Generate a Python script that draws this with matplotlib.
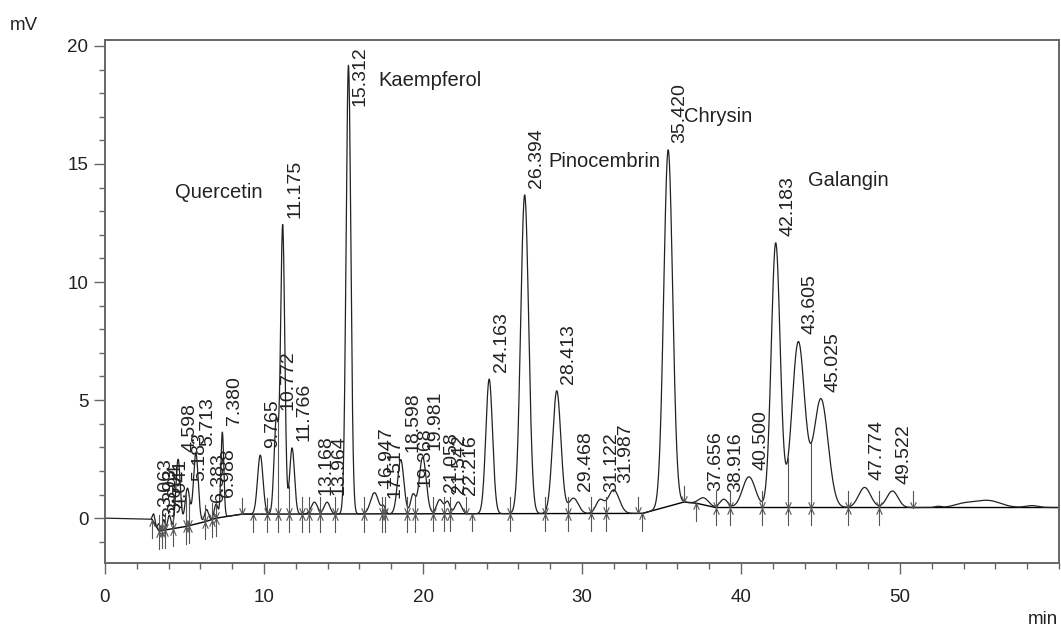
import numpy as np
import matplotlib.pyplot as plt
from matplotlib.path import Path

plt.rcParams['font.family'] = ['Liberation Sans', 'DejaVu Sans']

# peak table: retention time (min), height above baseline (mV), width (sigma, min)
rt = [3.063, 3.393, 3.694, 4.041, 4.598, 5.183, 5.713, 6.383, 6.988, 7.380,
      9.765, 10.772, 11.175, 11.766, 13.168, 13.964, 15.312, 16.947, 17.517,
      18.598, 19.368, 19.981, 21.058, 21.542, 22.216, 24.163, 26.394, 28.413,
      29.468, 31.122, 31.987, 35.420, 37.656, 38.916, 40.500, 42.183, 43.605,
      45.025, 47.774, 49.522]
height = [0.35, 0.3, 0.45, 0.6, 2.9, 1.6, 3.0, 0.5, 0.6, 3.6,
          2.5, 4.0, 12.2, 2.8, 0.5, 0.5, 19.0, 0.9, 0.3,
          2.3, 0.8, 2.4, 0.6, 0.5, 0.5, 5.7, 13.5, 5.2,
          0.65, 0.55, 1.0, 15.1, 0.3, 0.35, 1.3, 11.2, 7.0,
          4.6, 0.85, 0.7]
sigma = [0.07, 0.07, 0.08, 0.1, 0.14, 0.15, 0.15, 0.12, 0.12, 0.09,
         0.17, 0.14, 0.13, 0.15, 0.2, 0.18, 0.15, 0.25, 0.12,
         0.2, 0.15, 0.22, 0.2, 0.15, 0.2, 0.21, 0.25, 0.26,
         0.3, 0.25, 0.35, 0.28, 0.3, 0.25, 0.4, 0.28, 0.4,
         0.45, 0.38, 0.35]

# unlabeled humps at the end of the run
hump_rt = [52.4, 54.0, 55.5, 58.3]
hump_h = [0.05, 0.15, 0.3, 0.08]
hump_w = [0.2, 0.6, 0.8, 0.4]

# integration baseline
base_t = [0, 2.95, 3.4, 3.8, 5.1, 6.3, 7.0, 8.6, 33.5, 33.8, 36.4, 37.2, 38.4, 60]
base_y = [0, -0.05, -0.55, -0.5, -0.35, -0.15, 0.0, 0.17, 0.2, 0.2, 0.68, 0.63, 0.45, 0.45]

# peak start / end marks
starts = [2.98, 3.4, 3.6, 3.8, 4.3, 5.1, 5.3, 6.3, 6.7, 7.0, 9.3, 10.2, 10.9,
          11.55, 12.4, 12.8, 13.5, 14.45, 16.3, 17.4, 17.6, 19.0, 19.5, 20.6,
          21.3, 21.7, 23.1, 25.5, 27.7, 29.15, 30.55, 31.5, 33.8, 37.2, 38.4,
          39.3, 41.3, 42.95, 44.4, 46.75, 48.7]
ends = [3.4, 3.6, 3.8, 4.3, 5.1, 5.3, 6.3, 6.7, 7.0, 8.6, 10.2, 10.9, 11.55,
        12.4, 12.8, 13.5, 14.45, 16.3, 17.4, 17.6, 19.0, 19.5, 20.6, 21.3,
        21.7, 22.7, 25.5, 27.7, 29.15, 30.55, 31.5, 33.5, 36.4, 38.4, 39.3,
        41.3, 42.95, 44.4, 46.75, 48.7, 50.8]

names = ['Quercetin', 'Kaempferol', 'Pinocembrin', 'Chrysin', 'Galangin']
name_x = [4.4, 17.2, 27.9, 36.4, 44.2]
name_y = [13.8, 18.55, 15.1, 17.0, 14.3]

# build the detector trace
t = np.linspace(0, 60, 6001)
base = np.interp(t, base_t, base_y)
signal = base.copy()
for r, h, s in zip(rt + hump_rt, height + hump_h, sigma + hump_w):
    signal += h * np.exp(-0.5 * ((t - r) / s) ** 2)

fig = plt.figure(figsize=(10.61, 6.34), dpi=100)
ax = fig.add_axes([105 / 1061, 1 - 563 / 634, 954 / 1061, 523 / 634])
ax.set_xlim(0, 60)
ax.set_ylim(-1.9, 20.25)

ax.plot(base_t[1:], base_y[1:], color='black', lw=1.0)
ax.plot(t, signal, color='#222222', lw=0.9)

line_c = '#555555'
down_arrow = Path([(-0.45, 1), (0, 0), (0.45, 1)])
up_arrow = Path([(-0.45, -1), (0, 0), (0.45, -1)])
for e in ends:
    b = np.interp(e, base_t, base_y)
    top = max(np.interp(e, t, signal), b + 0.7)
    ax.plot([e, e], [b, top], color=line_c, lw=0.8)
    ax.plot(e, b, marker=down_arrow, ms=9, mfc='none', mec=line_c, mew=0.8)
for s in starts:
    b = np.interp(s, base_t, base_y)
    ax.plot([s, s], [b - 0.75, b], color=line_c, lw=0.8)
    ax.plot(s, b, marker=up_arrow, ms=9, mfc='none', mec=line_c, mew=0.8)

# retention time labels
for r in rt:
    apex = np.interp(r, t, signal)
    if apex + 3.1 > 20.0:
        ax.text(r + 0.75, 20.0, f'{r:.3f}', rotation=90, ha='center', va='top',
                fontsize=14, color='#222222')
    else:
        ax.text(r + 0.75, apex + 0.3, f'{r:.3f}', rotation=90, ha='center',
                va='bottom', fontsize=14, color='#222222')

for n, x, y in zip(names, name_x, name_y):
    ax.text(x, y, n, ha='left', va='center', fontsize=14.5, color='#222222')

ax.set_xticks(np.arange(0, 51, 10))
ax.set_xticks(np.arange(0, 61, 2), minor=True)
ax.set_yticks(np.arange(0, 21, 5))
ax.set_yticks(np.arange(-1, 21, 1), minor=True)
ax.tick_params(which='major', length=8, width=1, color='#666666',
               labelsize=13.5, labelcolor='#222222', pad=4)
ax.tick_params(which='minor', length=4, width=1, color='#666666')
ax.tick_params(axis='x', which='major', pad=11)
for sp in ax.spines.values():
    sp.set_color('#666666')
    sp.set_linewidth(1.4)

fig.text(10 / 1061, 1 - 26 / 634, 'mV', ha='left', va='center', fontsize=13.5,
         color='#222222')
fig.text(1058 / 1061, 1 - 620 / 634, 'min', ha='right', va='center',
         fontsize=13.5, color='#222222')

fig.savefig('out.png', dpi=100)
